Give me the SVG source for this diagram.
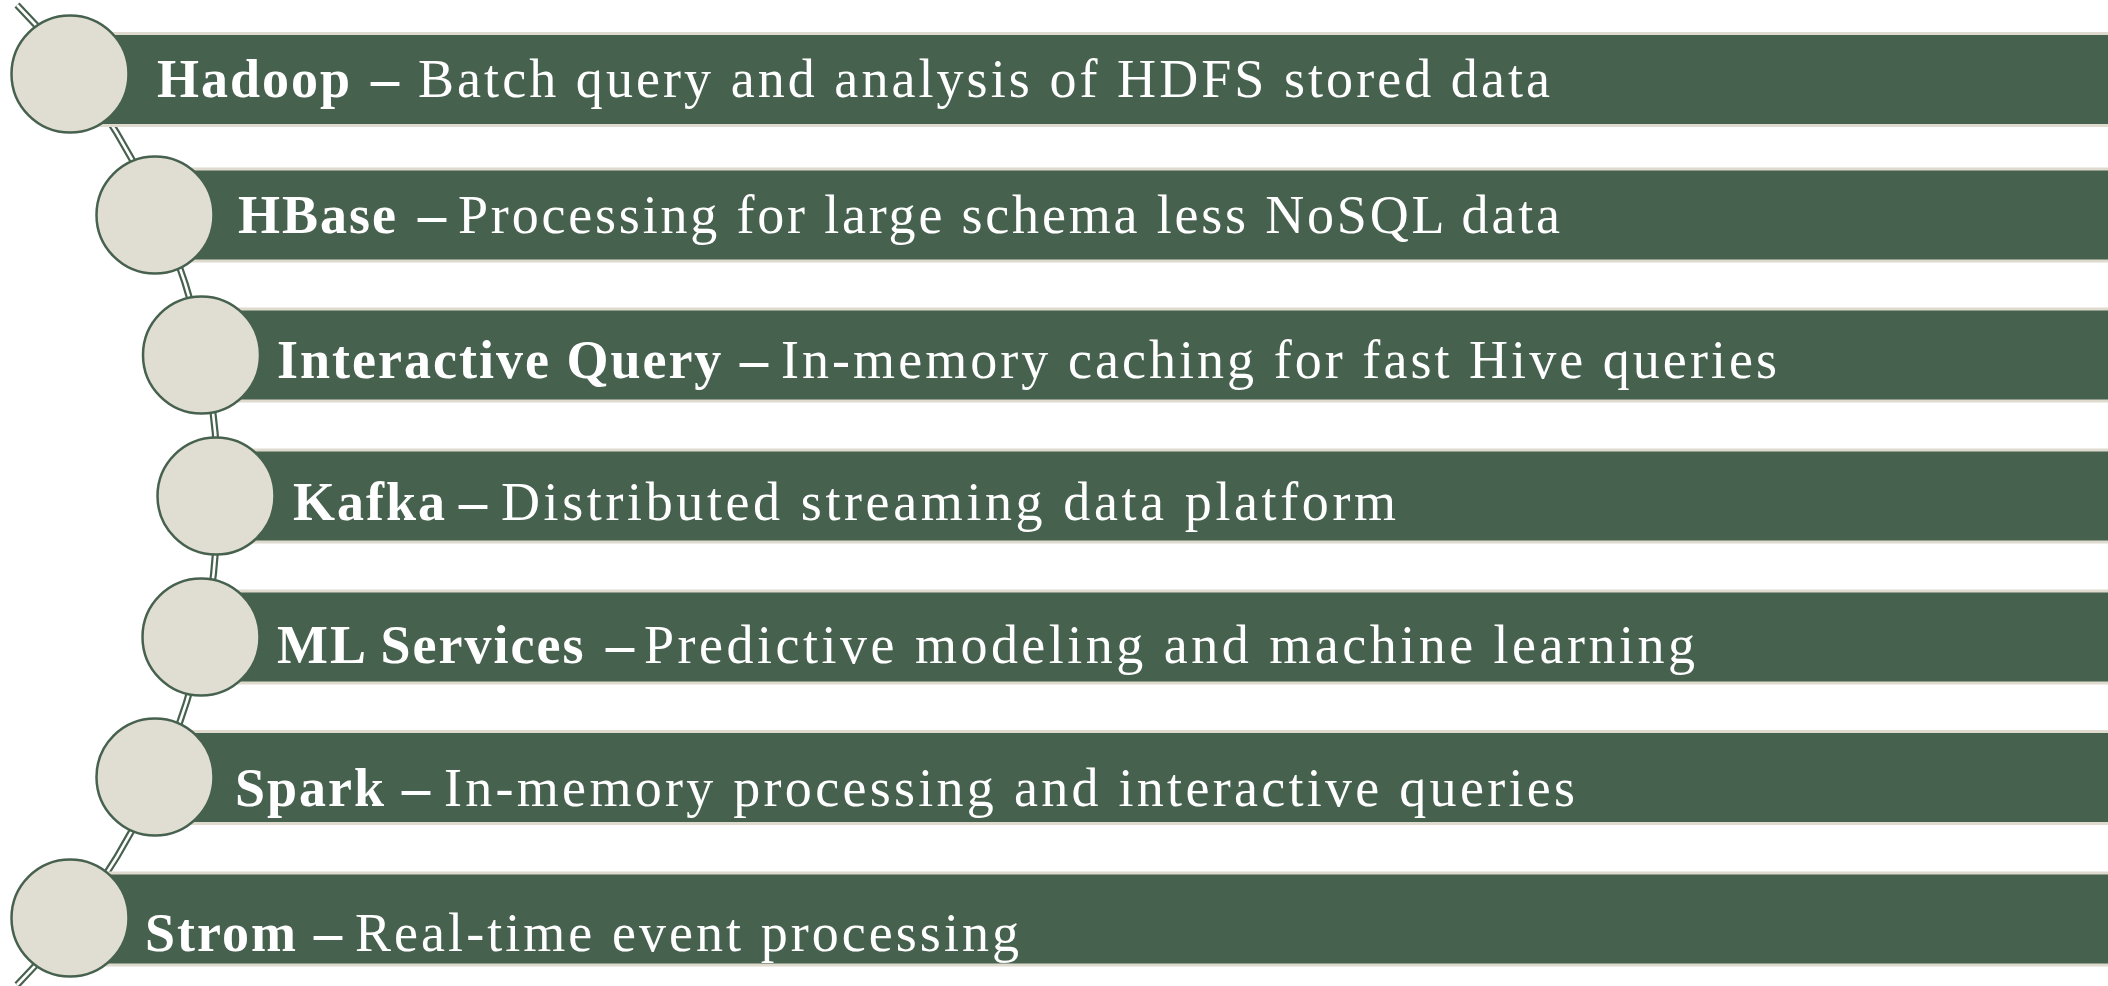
<svg xmlns="http://www.w3.org/2000/svg" width="2108" height="986" viewBox="0 0 2108 986">
<style>
.bar{fill:#47614F;stroke:#DEDACE;stroke-width:3}
.dot{fill:#E0DDD2;stroke:#47614F;stroke-width:2.5}
.nm{font-family:"Liberation Serif","Times New Roman",serif;font-weight:bold;font-size:54px;fill:#FFFFFF;letter-spacing:2px}
.dh{font-family:"Liberation Serif","Times New Roman",serif;font-weight:bold;font-size:56px;fill:#FFFFFF}
.ds{font-family:"Liberation Serif","Times New Roman",serif;font-size:54px;fill:#FFFFFF}
.arcO{fill:none;stroke:#47614F;stroke-width:7}
.arcI{fill:none;stroke:#FFFFFF;stroke-width:2.6}
</style>
<rect width="2108" height="986" fill="#FFFFFF"/>
<g id="connectors">
<path class="arcO" d="M 17 5 A 698 698 0 0 1 17 985"/>
<path class="arcI" d="M 17 5 A 698 698 0 0 1 17 985"/>
</g>
<g id="node-hadoop">
<rect class="bar" x="70" y="33.5" width="2060" height="92"/>
<circle class="dot" cx="70" cy="74" r="58.5"/>
<text class="nm" x="157" y="97">Hadoop</text>
<text class="dh" x="371" y="97">–</text>
<text class="ds" x="418" y="97" textLength="1132" lengthAdjust="spacing">Batch query and analysis of HDFS stored data</text>
</g>
<g id="node-hbase">
<rect class="bar" x="155" y="169" width="1975" height="92"/>
<circle class="dot" cx="155" cy="215" r="58.5"/>
<text class="nm" x="238" y="233">HBase</text>
<text class="dh" x="418" y="233">–</text>
<text class="ds" x="458" y="233" textLength="1102" lengthAdjust="spacing">Processing for large schema less NoSQL data</text>
</g>
<g id="node-interactive-query">
<rect class="bar" x="201" y="309" width="1929" height="92"/>
<circle class="dot" cx="201.5" cy="355" r="58.5"/>
<text class="nm" x="277" y="378">Interactive Query</text>
<text class="dh" x="740" y="378">–</text>
<text class="ds" x="781" y="378" textLength="996" lengthAdjust="spacing">In-memory caching for fast Hive queries</text>
</g>
<g id="node-kafka">
<rect class="bar" x="216" y="450" width="1914" height="92"/>
<circle class="dot" cx="216" cy="496" r="58.5"/>
<text class="nm" x="293" y="520">Kafka</text>
<text class="dh" x="459" y="520">–</text>
<text class="ds" x="501" y="520" textLength="895" lengthAdjust="spacing">Distributed streaming data platform</text>
</g>
<g id="node-ml-services">
<rect class="bar" x="201" y="591" width="1929" height="92"/>
<circle class="dot" cx="201" cy="637" r="58.5"/>
<text class="nm" x="277" y="663">ML Services</text>
<text class="dh" x="606" y="663">–</text>
<text class="ds" x="644" y="663" textLength="1051" lengthAdjust="spacing">Predictive modeling and machine learning</text>
</g>
<g id="node-spark">
<rect class="bar" x="155" y="731.5" width="1975" height="92"/>
<circle class="dot" cx="155" cy="777" r="58.5"/>
<text class="nm" x="235" y="806">Spark</text>
<text class="dh" x="402" y="806">–</text>
<text class="ds" x="444" y="806" textLength="1131" lengthAdjust="spacing">In-memory processing and interactive queries</text>
</g>
<g id="node-strom">
<rect class="bar" x="70" y="873" width="2060" height="92"/>
<circle class="dot" cx="70" cy="918" r="58.5"/>
<text class="nm" x="145" y="951">Strom</text>
<text class="dh" x="314" y="951">–</text>
<text class="ds" x="355" y="951" textLength="664" lengthAdjust="spacing">Real-time event processing</text>
</g>
</svg>
